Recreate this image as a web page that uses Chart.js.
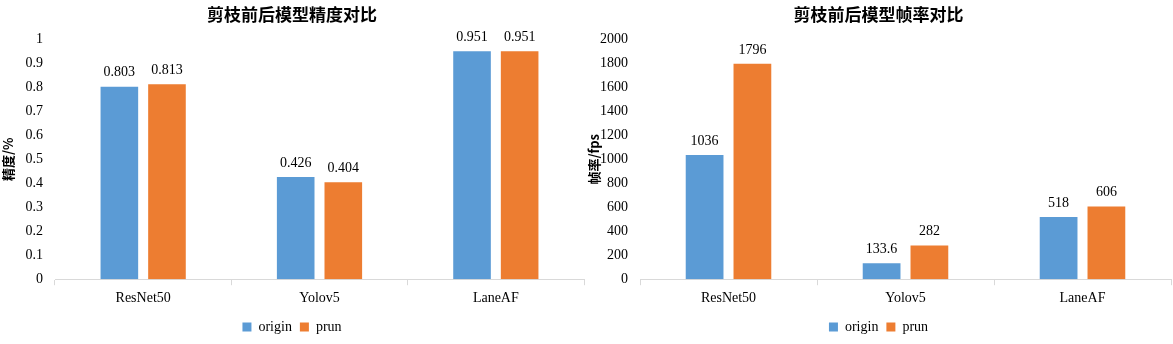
<!DOCTYPE html>
<html lang="zh">
<head>
<meta charset="UTF-8">
<title>剪枝前后模型对比</title>
<script src="https://cdn.jsdelivr.net/npm/chart.js"></script>
<style>
    body { margin: 0; background: #fff; }
    .wrap { display: flex; width: 1173px; height: 344px; }
    .box { position: relative; height: 344px; }
    #accBox { width: 586px; }
    #fpsBox { width: 587px; }
</style>
</head>
<body>
<div class="wrap">
    <div class="box" id="accBox"><canvas id="accChart"></canvas></div>
    <div class="box" id="fpsBox"><canvas id="fpsChart"></canvas></div>
</div>
<script>
const models = ["ResNet50", "Yolov5", "LaneAF"];
const accOrigin = [0.803, 0.426, 0.951];
const accPrun = [0.813, 0.404, 0.951];
const fpsOrigin = [1036, 133.6, 518];
const fpsPrun = [1796, 282, 606];

const blue = "#5b9bd5";
const orange = "#ed7d31";
const serif = "'Liberation Serif', serif";
const cjk = "'Noto Sans CJK SC', sans-serif";

// value text above every bar
const barLabels = {
    id: "barLabels",
    afterDatasetsDraw(chart) {
        const ctx = chart.ctx;
        ctx.save();
        ctx.font = "14px " + serif;
        ctx.fillStyle = "#000";
        ctx.textAlign = "center";
        ctx.textBaseline = "bottom";
        chart.data.datasets.forEach((ds, i) => {
            chart.getDatasetMeta(i).data.forEach((bar, j) => {
                ctx.fillText(String(ds.data[j]), bar.x, bar.y - 7);
            });
        });
        ctx.restore();
    }
};

function makeChart(id, title, yTitle, a, b, max, step, yWidth) {
    return new Chart(document.getElementById(id), {
        type: "bar",
        data: {
            labels: models,
            datasets: [
                { label: "origin", data: a, backgroundColor: blue },
                { label: "prun", data: b, backgroundColor: orange }
            ]
        },
        options: {
            responsive: true,
            maintainAspectRatio: false,
            animation: false,
            layout: { padding: { top: 2, right: 2, bottom: 0, left: 0 } },
            datasets: { bar: { categoryPercentage: 0.54, barPercentage: 0.79 } },
            plugins: {
                title: {
                    display: true, text: title, color: "#000",
                    font: { family: cjk, size: 17, weight: "bold" },
                    padding: { top: 2, bottom: 15 }
                },
                legend: {
                    position: "bottom",
                    labels: {
                        boxWidth: 9, boxHeight: 9, color: "#000",
                        font: { family: serif, size: 14 }, padding: 8
                    }
                },
                tooltip: { enabled: false }
            },
            scales: {
                x: {
                    offset: true,
                    grid: { display: true, drawOnChartArea: false, offset: true, tickLength: 6, color: "#d9d9d9" },
                    border: { color: "#d9d9d9" },
                    ticks: { color: "#000", font: { family: serif, size: 14 }, padding: 5 }
                },
                y: {
                    min: 0, max: max,
                    grid: { display: false },
                    border: { display: false },
                    ticks: {
                        stepSize: step, color: "#000", font: { family: serif, size: 14 }, padding: 4,
                        callback: v => String(Math.round(v * 1000) / 1000)
                    },
                    title: {
                        display: true, text: yTitle, color: "#000",
                        font: { family: cjk, size: 13, weight: "bold" }, padding: 0
                    },
                    afterFit(scale) { scale.width = yWidth; }
                }
            }
        },
        plugins: [barLabels]
    });
}

makeChart("accChart", "剪枝前后模型精度对比", "精度/%", accOrigin, accPrun, 1, 0.1, 55);
makeChart("fpsChart", "剪枝前后模型帧率对比", "帧率/fps", fpsOrigin, fpsPrun, 2000, 200, 54);
</script>
</body>
</html>
